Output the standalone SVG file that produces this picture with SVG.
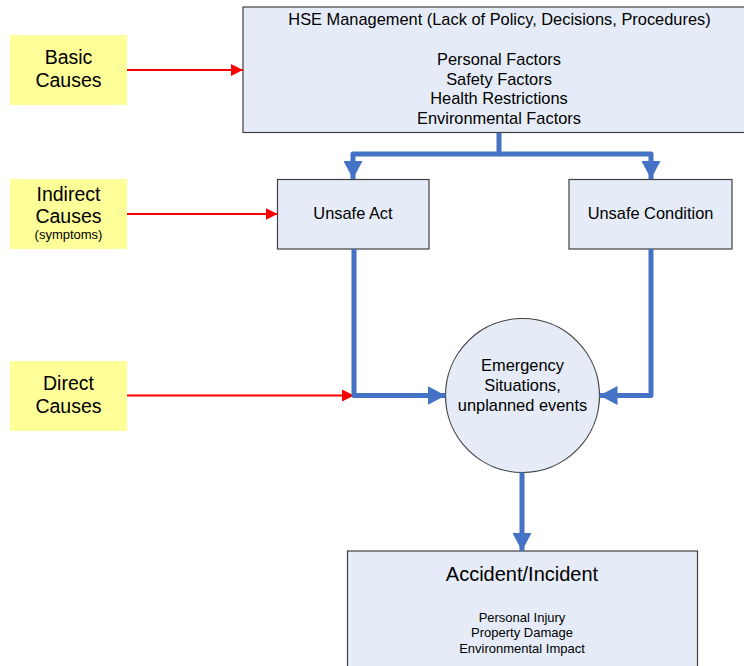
<svg xmlns="http://www.w3.org/2000/svg" width="744" height="666" viewBox="0 0 744 666">
<style>
  text { font-family: "Liberation Sans", Arial, sans-serif; fill: #000; text-anchor: middle; }
  .cause { fill: #FFFF99; stroke: none; }
  .box { fill: #E6ECF7; stroke: #404040; stroke-width: 1.2; }
  .red { fill: none; stroke: #FF0000; stroke-width: 2; marker-end: url(#redArrow); }
  .blue { fill: none; stroke: #4472C4; stroke-width: 5; stroke-linejoin: round; marker-end: url(#blueArrow); }
  .m { font-size: 16.4px; }
</style>
<defs>
  <marker id="redArrow" markerUnits="userSpaceOnUse" markerWidth="12" markerHeight="12" refX="12" refY="6" orient="auto">
    <path d="M0,0 L12,6 L0,12 z" fill="#FF0000"/>
  </marker>
  <marker id="blueArrow" markerUnits="userSpaceOnUse" markerWidth="18" markerHeight="19" refX="18" refY="9.5" orient="auto">
    <path d="M0,0 L18,9.5 L0,19 z" fill="#4472C4"/>
  </marker>
</defs>

<g id="basic-causes">
  <rect class="cause" x="10" y="35" width="117" height="70"/>
  <text x="68.5" y="64" font-size="19.5">Basic</text>
  <text x="68.5" y="87.3" font-size="19.5">Causes</text>
</g>
<g id="indirect-causes">
  <rect class="cause" x="10" y="179" width="117" height="70"/>
  <text x="68.5" y="200.7" font-size="19.5">Indirect</text>
  <text x="68.5" y="223.3" font-size="19.5">Causes</text>
  <text x="68.5" y="239" font-size="13">(symptoms)</text>
</g>
<g id="direct-causes">
  <rect class="cause" x="10" y="361" width="117" height="70"/>
  <text x="68.5" y="390" font-size="19.5">Direct</text>
  <text x="68.5" y="413.3" font-size="19.5">Causes</text>
</g>

<g id="hse-management">
  <rect class="box" x="243" y="7" width="505" height="125.5"/>
  <text class="m" x="499.5" y="25">HSE Management (Lack of Policy, Decisions, Procedures)</text>
  <text class="m" x="499" y="65">Personal Factors</text>
  <text class="m" x="499" y="85">Safety Factors</text>
  <text class="m" x="499" y="104">Health Restrictions</text>
  <text class="m" x="499" y="123.5">Environmental Factors</text>
</g>

<g id="unsafe-act">
  <rect class="box" x="277.5" y="179.5" width="151.5" height="69.5"/>
  <text class="m" x="353" y="219">Unsafe Act</text>
</g>
<g id="unsafe-condition">
  <rect class="box" x="569" y="179.5" width="163" height="69.5"/>
  <text class="m" x="650.5" y="219">Unsafe Condition</text>
</g>

<g id="emergency">
  <circle class="box" cx="522.5" cy="395.5" r="77" stroke="#222" stroke-width="1"/>
  <text class="m" x="522.5" y="371">Emergency</text>
  <text class="m" x="522.5" y="391">Situations,</text>
  <text class="m" x="522.5" y="410.5">unplanned events</text>
</g>

<g id="accident">
  <rect class="box" x="347.5" y="551" width="350" height="130"/>
  <text x="522" y="580.5" font-size="20">Accident/Incident</text>
  <text x="522" y="621.7" font-size="13">Personal Injury</text>
  <text x="522" y="637.3" font-size="13">Property Damage</text>
  <text x="522" y="652.7" font-size="13">Environmental Impact</text>
</g>

<g id="connectors">
  <path class="red" d="M127,70 H243"/>
  <path class="red" d="M127,214 H277.5"/>
  <path class="red" d="M127,395.5 H354"/>
  <path class="blue" d="M499,133 V154 H353 V179"/>
  <path class="blue" d="M499,154 H651 V179"/>
  <path class="blue" d="M354,249 V395.5 H445.5"/>
  <path class="blue" d="M651,249 V395.5 H599.5"/>
  <path class="blue" d="M522,472.5 V551"/>
</g>
</svg>
